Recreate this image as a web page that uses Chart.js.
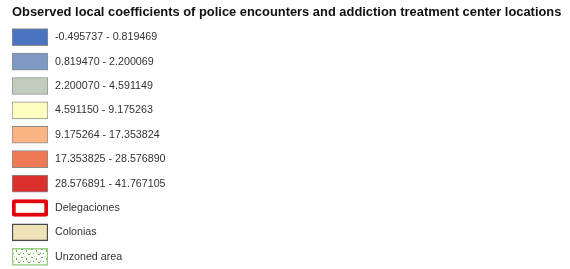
<!DOCTYPE html>
<html>
<head>
<meta charset="utf-8">
<script src="https://cdn.jsdelivr.net/npm/chart.js@4.4.1/dist/chart.umd.min.js"></script>
<style>
  html, body { margin: 0; padding: 0; background: #fff; }
  #wrap { width: 570px; height: 269px; }
</style>
</head>
<body>
<div id="wrap"><canvas id="legend-chart" width="570" height="269"></canvas></div>
<script>
// legend classes (top to bottom)
const classLabels = [
  '-0.495737 - 0.819469',
  '0.819470 - 2.200069',
  '2.200070 - 4.591149',
  '4.591150 - 9.175263',
  '9.175264 - 17.353824',
  '17.353825 - 28.576890',
  '28.576891 - 41.767105',
  'Delegaciones',
  'Colonias',
  'Unzoned area'
];
// every swatch is one full-width bar
const swatchValues = [1, 1, 1, 1, 1, 1, 1, 1, 1, 1];

const titleText = 'Observed local coefficients of police encounters and addiction treatment center locations';

// speckled pattern for the unzoned area
function unzonedPattern() {
    let c = document.createElement('canvas');
    c.width = 10;
    c.height = 8;
    let g = c.getContext('2d');
    g.fillStyle = '#ffffff';
    g.fillRect(0, 0, 10, 8);
    g.fillStyle = '#5fa63d';
    g.fillRect(1, 1, 2, 1);
    g.fillRect(6, 2, 1, 2);
    g.fillRect(3, 5, 1, 1);
    g.fillRect(8, 6, 2, 1);
    g.fillStyle = '#b7dca3';
    g.fillRect(4, 0, 1, 1);
    g.fillRect(0, 4, 1, 2);
    g.fillRect(7, 5, 1, 1);
    return g.createPattern(c, 'repeat');
}

const fillColors = [
    '#4a74bf', '#7d99c4', '#c2ccbd', '#fefec0', '#fbb584', '#ee7b56', '#d9302e',
    '#ffffff', '#f0e2b8', unzonedPattern()
];
const edgeColors = [
    '#8c8c8c', '#8c8c8c', '#8c8c8c', '#8c8c8c', '#8c8c8c', '#8c8c8c', '#8c8c8c',
    '#e3000f', '#4a4a4a', '#95cc7e'
];
const edgeWidths = [1, 1, 1, 1, 1, 1, 1, 4, 1.5, 1.5];
const edgeRadius = [0, 0, 0, 0, 0, 0, 0, 3, 0, 0];

let ctx = document.getElementById('legend-chart');
let legendChart = new Chart(ctx, {
    type: 'bar',
    data: {
        labels: classLabels,
        datasets: [{
            data: swatchValues,
            backgroundColor: fillColors,
            borderColor: edgeColors,
            borderWidth: edgeWidths,
            borderRadius: edgeRadius,
            borderSkipped: false,
            barThickness: 17
        }]
    },
    options: {
        indexAxis: 'y',
        responsive: false,
        animation: false,
        layout: {
            padding: { left: 12, top: 4.3, right: 0, bottom: 0 }
        },
        scales: {
            x: { display: false, min: 0, max: 1 },
            y: {
                position: 'right',
                grid: { display: false, drawTicks: false },
                border: { display: false },
                ticks: {
                    padding: 7,
                    crossAlign: 'near',
                    color: '#333333',
                    font: { family: 'Arial, "Liberation Sans", sans-serif', size: 10.7 }
                },
                afterFit: (scale) => {
                    scale.width = 522;
                    scale.paddingTop = 0;
                    scale.paddingBottom = 0;
                }
            }
        },
        plugins: {
            legend: { display: false },
            tooltip: { enabled: false },
            title: {
                display: true,
                text: titleText,
                align: 'start',
                color: '#111111',
                padding: { top: 0, bottom: 5.2 },
                font: { family: 'Arial, "Liberation Sans", sans-serif', size: 12.9, weight: 'bold', lineHeight: 1.2 }
            }
        }
    }
});
</script>
</body>
</html>
